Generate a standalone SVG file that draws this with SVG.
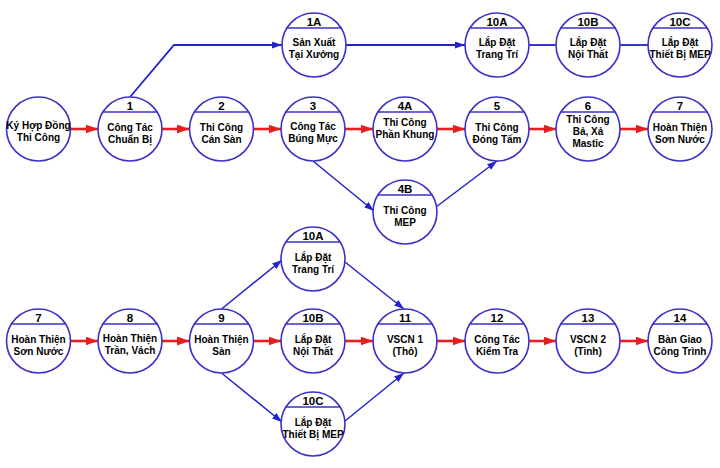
<svg xmlns="http://www.w3.org/2000/svg" width="720" height="468" viewBox="0 0 720 468">
<style>
.c{fill:#fff;stroke:#3a30c8;stroke-width:1.6}
.h{fill:none;stroke:#3a30c8;stroke-width:1.6}
.n{font-family:"Liberation Sans",Arial,sans-serif;font-weight:bold;font-size:11.5px;fill:#000;text-anchor:middle}
.t{font-family:"Liberation Sans",Arial,sans-serif;font-weight:bold;font-size:10px;fill:#000;text-anchor:middle}
.r{fill:none;stroke:#e61e1e;stroke-width:2.6}
.b{fill:none;stroke:#2222cc;stroke-width:1.5}
</style>
<defs>
<marker id="ar" markerUnits="userSpaceOnUse" markerWidth="13" markerHeight="10" refX="12.5" refY="4.5" orient="auto"><path d="M0,0 L12.5,4.5 L0,9 z" fill="#e61e1e"/></marker>
<marker id="ab" markerUnits="userSpaceOnUse" markerWidth="11" markerHeight="8" refX="10" refY="3.5" orient="auto"><path d="M0,0 L10,3.5 L0,7 z" fill="#2222cc"/></marker>
<symbol id="hdr" overflow="visible"><path class="h" d="M-27.1,-17 H27.1"/></symbol>
</defs>
<rect width="720" height="468" fill="#fff"/>
<g id="connectors">
<line class="r" x1="70.5" y1="129" x2="98" y2="129" marker-end="url(#ar)"/>
<line class="r" x1="162" y1="129" x2="189.5" y2="129" marker-end="url(#ar)"/>
<line class="r" x1="253.5" y1="129" x2="281" y2="129" marker-end="url(#ar)"/>
<line class="r" x1="345" y1="129" x2="373" y2="129" marker-end="url(#ar)"/>
<line class="r" x1="437" y1="129" x2="465" y2="129" marker-end="url(#ar)"/>
<line class="r" x1="529" y1="129" x2="556" y2="129" marker-end="url(#ar)"/>
<line class="r" x1="620" y1="129" x2="648" y2="129" marker-end="url(#ar)"/>
<line class="r" x1="70.5" y1="341" x2="98" y2="341" marker-end="url(#ar)"/>
<line class="r" x1="162" y1="341" x2="189.5" y2="341" marker-end="url(#ar)"/>
<line class="r" x1="253.5" y1="341" x2="281" y2="341" marker-end="url(#ar)"/>
<line class="r" x1="345" y1="341" x2="373" y2="341" marker-end="url(#ar)"/>
<line class="r" x1="437" y1="341" x2="465" y2="341" marker-end="url(#ar)"/>
<line class="r" x1="529" y1="341" x2="556" y2="341" marker-end="url(#ar)"/>
<line class="r" x1="620" y1="341" x2="648" y2="341" marker-end="url(#ar)"/>
<polyline class="b" style="stroke-width:1.8" points="130,97 174,45 282,45" marker-end="url(#ab)"/>
<line class="b" style="stroke-width:1.8" x1="346" y1="45" x2="465" y2="45" marker-end="url(#ab)"/>
<line class="b" style="stroke-width:1.8" x1="529" y1="45" x2="556" y2="45"/>
<line class="b" style="stroke-width:1.8" x1="620" y1="45" x2="648" y2="45"/>
<line class="b" x1="313" y1="161" x2="374" y2="211" marker-end="url(#ab)"/>
<line class="b" x1="436" y1="207" x2="497" y2="161" marker-end="url(#ab)"/>
<line class="b" x1="221.5" y1="309" x2="282" y2="260" marker-end="url(#ab)"/>
<line class="b" x1="345" y1="262" x2="404" y2="309" marker-end="url(#ab)"/>
<line class="b" x1="221.5" y1="373" x2="282" y2="422" marker-end="url(#ab)"/>
<line class="b" x1="345" y1="421" x2="404" y2="373" marker-end="url(#ab)"/>
</g>
<g id="n1A" transform="translate(314,45)"><circle class="c" r="32"/><use href="#hdr"/><text class="n" y="-19.5">1A</text><text class="t" y="1">Sản Xuất</text><text class="t" y="13">Tại Xưởng</text></g>
<g id="n10A-top" transform="translate(497,45)"><circle class="c" r="32"/><use href="#hdr"/><text class="n" y="-19.5">10A</text><text class="t" y="1">Lắp Đặt</text><text class="t" y="13">Trang Trí</text></g>
<g id="n10B-top" transform="translate(588,45)"><circle class="c" r="32"/><use href="#hdr"/><text class="n" y="-19.5">10B</text><text class="t" y="1">Lắp Đặt</text><text class="t" y="13">Nội Thất</text></g>
<g id="n10C-top" transform="translate(680,45)"><circle class="c" r="32"/><use href="#hdr"/><text class="n" y="-19.5">10C</text><text class="t" y="1">Lắp Đặt</text><text class="t" y="13">Thiết Bị MEP</text></g>
<g id="n0" transform="translate(38.5,129)"><circle class="c" r="32"/><text class="t" y="0">Ký Hợp Đồng</text><text class="t" y="12">Thi Công</text></g>
<g id="n1" transform="translate(130,129)"><circle class="c" r="32"/><use href="#hdr"/><text class="n" y="-19.5">1</text><text class="t" y="1.5">Công Tác</text><text class="t" y="13.5">Chuẩn Bị</text></g>
<g id="n2" transform="translate(221.5,129)"><circle class="c" r="32"/><use href="#hdr"/><text class="n" y="-19.5">2</text><text class="t" y="1.5">Thi Công</text><text class="t" y="13.5">Cán Sàn</text></g>
<g id="n3" transform="translate(313,129)"><circle class="c" r="32"/><use href="#hdr"/><text class="n" y="-19.5">3</text><text class="t" y="0.5">Công Tác</text><text class="t" y="12.5">Búng Mực</text></g>
<g id="n4A" transform="translate(405,129)"><circle class="c" r="32"/><use href="#hdr"/><text class="n" y="-19.5">4A</text><text class="t" y="-3">Thi Công</text><text class="t" y="9">Phần Khung</text></g>
<g id="n4B" transform="translate(405,212)"><circle class="c" r="32"/><use href="#hdr"/><text class="n" y="-19.5">4B</text><text class="t" y="1.5">Thi Công</text><text class="t" y="13.5">MEP</text></g>
<g id="n5" transform="translate(497,129)"><circle class="c" r="32"/><use href="#hdr"/><text class="n" y="-19.5">5</text><text class="t" y="1.5">Thi Công</text><text class="t" y="13.5">Đóng Tấm</text></g>
<g id="n6" transform="translate(588,129)"><circle class="c" r="32"/><use href="#hdr"/><text class="n" y="-19.5">6</text><text class="t" y="-6">Thi Công</text><text class="t" y="6">Bả, Xả</text><text class="t" y="18">Mastic</text></g>
<g id="n7-top" transform="translate(680,129)"><circle class="c" r="32"/><use href="#hdr"/><text class="n" y="-19.5">7</text><text class="t" y="1.5">Hoàn Thiện</text><text class="t" y="13.5">Sơn Nước</text></g>
<g id="n7" transform="translate(38.5,341)"><circle class="c" r="32"/><use href="#hdr"/><text class="n" y="-19.5">7</text><text class="t" y="1.5">Hoàn Thiện</text><text class="t" y="13.5">Sơn Nước</text></g>
<g id="n8" transform="translate(130,341)"><circle class="c" r="32"/><use href="#hdr"/><text class="n" y="-19.5">8</text><text class="t" y="1">Hoàn Thiện</text><text class="t" y="13">Trần, Vách</text></g>
<g id="n9" transform="translate(221.5,341)"><circle class="c" r="32"/><use href="#hdr"/><text class="n" y="-19.5">9</text><text class="t" y="1.5">Hoàn Thiện</text><text class="t" y="13.5">Sàn</text></g>
<g id="n10A" transform="translate(313,259)"><circle class="c" r="32"/><use href="#hdr"/><text class="n" y="-19.5">10A</text><text class="t" y="1.5">Lắp Đặt</text><text class="t" y="13.5">Trang Trí</text></g>
<g id="n10B" transform="translate(313,341)"><circle class="c" r="32"/><use href="#hdr"/><text class="n" y="-19.5">10B</text><text class="t" y="1.5">Lắp Đặt</text><text class="t" y="13.5">Nội Thất</text></g>
<g id="n10C" transform="translate(313,424)"><circle class="c" r="32"/><use href="#hdr"/><text class="n" y="-19.5">10C</text><text class="t" y="1.5">Lắp Đặt</text><text class="t" y="13.5">Thiết Bị MEP</text></g>
<g id="n11" transform="translate(405,341)"><circle class="c" r="32"/><use href="#hdr"/><text class="n" y="-19.5">11</text><text class="t" y="1.5">VSCN 1</text><text class="t" y="13.5">(Thô)</text></g>
<g id="n12" transform="translate(497,341)"><circle class="c" r="32"/><use href="#hdr"/><text class="n" y="-19.5">12</text><text class="t" y="1.5">Công Tác</text><text class="t" y="13.5">Kiểm Tra</text></g>
<g id="n13" transform="translate(588,341)"><circle class="c" r="32"/><use href="#hdr"/><text class="n" y="-19.5">13</text><text class="t" y="1.5">VSCN 2</text><text class="t" y="13.5">(Tinh)</text></g>
<g id="n14" transform="translate(680,341)"><circle class="c" r="32"/><use href="#hdr"/><text class="n" y="-19.5">14</text><text class="t" y="1.5">Bàn Giao</text><text class="t" y="13.5">Công Trình</text></g>
</svg>
